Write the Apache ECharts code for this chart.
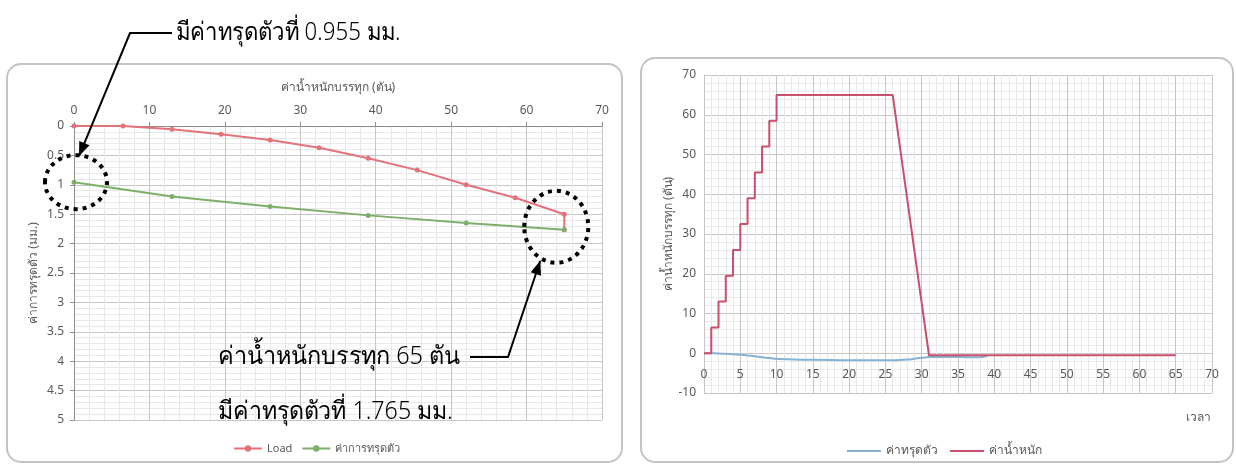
<!DOCTYPE html>
<html>
<head>
<meta charset="utf-8">
<script src="https://cdn.jsdelivr.net/npm/echarts@6/dist/echarts.min.js"></script>
<style>
html,body{margin:0;padding:0;background:#fff;}
#c{width:1236px;height:466px;}
</style>
</head>
<body>
<div id="c"></div>
<script>
// ---- Left chart: load (ton) vs settlement (mm) ----
const loadAxisTicks = [0, 10, 20, 30, 40, 50, 60, 70];
const settleAxisTicks = [0, 0.5, 1, 1.5, 2, 2.5, 3, 3.5, 4, 4.5, 5];
const loadingLoad = [0, 6.5, 13, 19.5, 26, 32.5, 39, 45.5, 52, 58.5, 65, 65];
const loadingSettle = [0, 0, 0.055, 0.14, 0.24, 0.37, 0.55, 0.75, 1.0, 1.22, 1.5, 1.765];
const unloadLoad = [65, 52, 39, 26, 13, 0];
const unloadSettle = [1.765, 1.65, 1.52, 1.37, 1.2, 0.955];

// ---- Right chart: time vs load / settlement ----
const timeTicks = [0, 5, 10, 15, 20, 25, 30, 35, 40, 45, 50, 55, 60, 65, 70];
const valueTicks = [-10, 0, 10, 20, 30, 40, 50, 60, 70];
const loadTime = [0, 1, 1, 2, 2, 3, 3, 4, 4, 5, 5, 6, 6, 7, 7, 8, 8, 9, 9, 10, 10, 26, 31, 65];
const loadValue = [0, 0, 6.5, 6.5, 13, 13, 19.5, 19.5, 26, 26, 32.5, 32.5, 39, 39, 45.5, 45.5, 52, 52, 58.5, 58.5, 65, 65, -0.5, -0.5];
const settleTime = [0, 1, 2, 3, 4, 5, 6, 7, 8, 9, 10, 15, 20, 25, 26, 28, 30, 31, 35, 38, 39];
const settleValue = [0, 0, -0.05, -0.14, -0.24, -0.37, -0.55, -0.75, -1.0, -1.22, -1.45, -1.65, -1.75, -1.78, -1.765, -1.6, -1.15, -0.955, -0.96, -1.0, -0.7];

const names = {
  leftX: 'ค่าน้ำหนักบรรทุก (ตัน)',
  leftY: 'ค่าการทรุดตัว (มม.)',
  s1: 'Load',
  s2: 'ค่าการทรุดตัว',
  rightY: 'ค่าน้ำหนักบรรทุก (ตัน)',
  rightX: 'เวลา',
  s3: 'ค่าทรุดตัว',
  s4: 'ค่าน้ำหนัก',
  note1: 'มีค่าทรุดตัวที่ 0.955 มม.',
  note2a: 'ค่าน้ำหนักบรรทุก 65 ตัน',
  note2b: 'มีค่าทรุดตัวที่ 1.765 มม.'
};

const FONT = "'Noto Sans', 'DejaVu Sans', sans-serif";
const TXT = '#595959';
const MAJ = '#c6c6c6';
const MIN = '#e8e8e8';

const zip = (a, b) => a.map((v, i) => [v, b[i]]);

const chart = echarts.init(document.getElementById('c'), null, {renderer: 'canvas'});

const axisCommon = {
  axisLabel: {color: TXT, fontSize: 12, fontFamily: FONT},
  nameTextStyle: {color: TXT, fontSize: 12, fontFamily: FONT},
  splitLine: {show: true, lineStyle: {color: MAJ, width: 1}},
  minorTick: {show: false, splitNumber: 5},
  minorSplitLine: {show: true, lineStyle: {color: MIN, width: 1}}
};

const option = {
  backgroundColor: '#ffffff',
  animation: false,
  textStyle: {fontFamily: FONT},
  grid: [
    {left: 74, top: 126, width: 528, height: 294},
    {left: 704, top: 75, width: 508, height: 318}
  ],
  legend: [
    {
      data: [names.s1, names.s2],
      left: 228, top: 438, itemWidth: 28, itemHeight: 8, itemGap: 9,
      textStyle: {color: TXT, fontSize: 11, fontFamily: FONT}
    },
    {
      data: [{name: names.s3, icon: 'rect'}, {name: names.s4, icon: 'rect'}],
      left: 842, top: 440, itemWidth: 34, itemHeight: 2, itemGap: 12,
      textStyle: {color: TXT, fontSize: 12, fontFamily: FONT}
    }
  ],
  xAxis: [
    Object.assign({}, axisCommon, {
      gridIndex: 0, type: 'value', position: 'top',
      min: loadAxisTicks[0], max: loadAxisTicks[loadAxisTicks.length - 1], interval: 10,
      name: names.leftX, nameLocation: 'middle', nameGap: 32,
      axisLine: {show: true, onZero: false, lineStyle: {color: '#8c8c8c'}},
      axisTick: {show: true, length: 4, lineStyle: {color: '#8c8c8c'}},
      axisLabel: {color: TXT, fontSize: 12, fontFamily: FONT, margin: 9}
    }),
    Object.assign({}, axisCommon, {
      gridIndex: 1, type: 'value',
      min: timeTicks[0], max: timeTicks[timeTicks.length - 1], interval: 5,
      axisLine: {show: false, onZero: false},
      axisTick: {show: false},
      axisLabel: {color: TXT, fontSize: 12, fontFamily: FONT, margin: -24}
    })
  ],
  yAxis: [
    Object.assign({}, axisCommon, {
      gridIndex: 0, type: 'value', inverse: true,
      min: settleAxisTicks[0], max: settleAxisTicks[settleAxisTicks.length - 1], interval: 0.5,
      name: names.leftY, nameLocation: 'middle', nameGap: 34, nameRotate: 90,
      axisLine: {show: true, onZero: false, lineStyle: {color: '#8c8c8c'}},
      axisTick: {show: true, length: 4, lineStyle: {color: '#8c8c8c'}},
      axisLabel: {color: TXT, fontSize: 12, fontFamily: FONT, margin: 10}
    }),
    Object.assign({}, axisCommon, {
      gridIndex: 1, type: 'value',
      min: valueTicks[0], max: valueTicks[valueTicks.length - 1], interval: 10,
      name: names.rightY, nameLocation: 'middle', nameGap: 22, nameRotate: 90,
      axisLine: {show: true, lineStyle: {color: '#c6c6c6'}},
      axisTick: {show: false},
      axisLabel: {color: TXT, fontSize: 12, fontFamily: FONT, margin: 8}
    })
  ],
  series: [
    {
      name: names.s1, type: 'line', xAxisIndex: 0, yAxisIndex: 0,
      data: zip(loadingLoad, loadingSettle),
      symbol: 'circle', symbolSize: 5,
      lineStyle: {color: '#e4727a', width: 2},
      itemStyle: {color: '#e4727a'}
    },
    {
      name: names.s2, type: 'line', xAxisIndex: 0, yAxisIndex: 0,
      data: zip(unloadLoad, unloadSettle),
      symbol: 'circle', symbolSize: 5,
      lineStyle: {color: '#7daf6b', width: 2},
      itemStyle: {color: '#7daf6b'}
    },
    {
      name: names.s3, type: 'line', xAxisIndex: 1, yAxisIndex: 1,
      data: zip(settleTime, settleValue),
      symbol: 'none', smooth: 0.3, smoothMonotone: 'x',
      lineStyle: {color: '#86b3d3', width: 2},
      itemStyle: {color: '#86b3d3'}
    },
    {
      name: names.s4, type: 'line', xAxisIndex: 1, yAxisIndex: 1,
      data: zip(loadTime, loadValue),
      symbol: 'none',
      lineStyle: {color: '#c9506c', width: 2},
      itemStyle: {color: '#c9506c'}
    }
  ]
};

chart.setOption(option);

// ---- Annotations (frames, dotted circles, arrows, notes) ----
function arrow(x0, y0, x1, y1) {
  const dx = x1 - x0, dy = y1 - y0, L = Math.hypot(dx, dy);
  const ux = dx / L, uy = dy / L, px = -uy, py = ux;
  const hl = 14, hw = 5.5;
  const bx = x1 - ux * hl, by = y1 - uy * hl;
  return {
    type: 'polygon', z: 100,
    shape: {points: [[x1, y1], [bx + px * hw, by + py * hw], [bx - px * hw, by - py * hw]]},
    style: {fill: '#000'}
  };
}

const p1 = chart.convertToPixel({xAxisIndex: 0, yAxisIndex: 0}, [unloadLoad[unloadLoad.length - 1], unloadSettle[unloadSettle.length - 1]]);
const p2 = chart.convertToPixel({xAxisIndex: 0, yAxisIndex: 0}, [unloadLoad[0], unloadSettle[0]]);
const pEnd = chart.convertToPixel({xAxisIndex: 1, yAxisIndex: 1}, [timeTicks[timeTicks.length - 1], valueTicks[0]]);

const c1 = {cx: p1[0] + 2, cy: p1[1], rx: 31, ry: 27};
const c2 = {cx: p2[0] - 8, cy: p2[1] - 3, rx: 32, ry: 36};

const tip1 = [c1.cx + 3, c1.cy - c1.ry + 1];
const start1 = [130, 33];
const tip2 = [c2.cx - 16, c2.cy + c2.ry - 2];
const start2 = [508, 357];

const noteStyle = {fill: '#000', fontSize: 25, fontWeight: 300, fontFamily: FONT, verticalAlign: 'middle'};

chart.setOption({
  graphic: [
    {type: 'rect', z: 0, silent: true, shape: {x: 7, y: 64, width: 615, height: 398, r: 14},
     style: {fill: 'none', stroke: '#c4c4c4', lineWidth: 2}},
    {type: 'rect', z: 0, silent: true, shape: {x: 641, y: 58, width: 592, height: 404, r: 14},
     style: {fill: 'none', stroke: '#c4c4c4', lineWidth: 2}},
    {type: 'text', z: 10, x: pEnd[0] - 1, y: pEnd[1] + 25,
     style: {text: names.rightX, fill: TXT, fontSize: 12, fontFamily: FONT, align: 'right', verticalAlign: 'middle'}},
    {type: 'ellipse', z: 100, shape: {cx: c1.cx, cy: c1.cy, rx: c1.rx, ry: c1.ry},
     style: {fill: 'none', stroke: '#000', lineWidth: 4, lineDash: [4, 5]}},
    {type: 'ellipse', z: 100, shape: {cx: c2.cx, cy: c2.cy, rx: c2.rx, ry: c2.ry},
     style: {fill: 'none', stroke: '#000', lineWidth: 4, lineDash: [4, 5]}},
    {type: 'polyline', z: 100, shape: {points: [[172, 33], start1, tip1]},
     style: {stroke: '#000', lineWidth: 2, fill: 'none'}},
    arrow(start1[0], start1[1], tip1[0], tip1[1]),
    {type: 'polyline', z: 100, shape: {points: [[470, 357], start2, tip2]},
     style: {stroke: '#000', lineWidth: 2, fill: 'none'}},
    arrow(start2[0], start2[1], tip2[0], tip2[1]),
    {type: 'text', z: 100, x: 176, y: 33, scaleX: 0.89,
     style: Object.assign({text: names.note1}, noteStyle)},
    {type: 'text', z: 100, x: 218, y: 357, scaleX: 0.94,
     style: Object.assign({text: names.note2a}, noteStyle)},
    {type: 'text', z: 100, x: 218, y: 412, scaleX: 0.93,
     style: Object.assign({text: names.note2b}, noteStyle)}
  ]
});
</script>
</body>
</html>
